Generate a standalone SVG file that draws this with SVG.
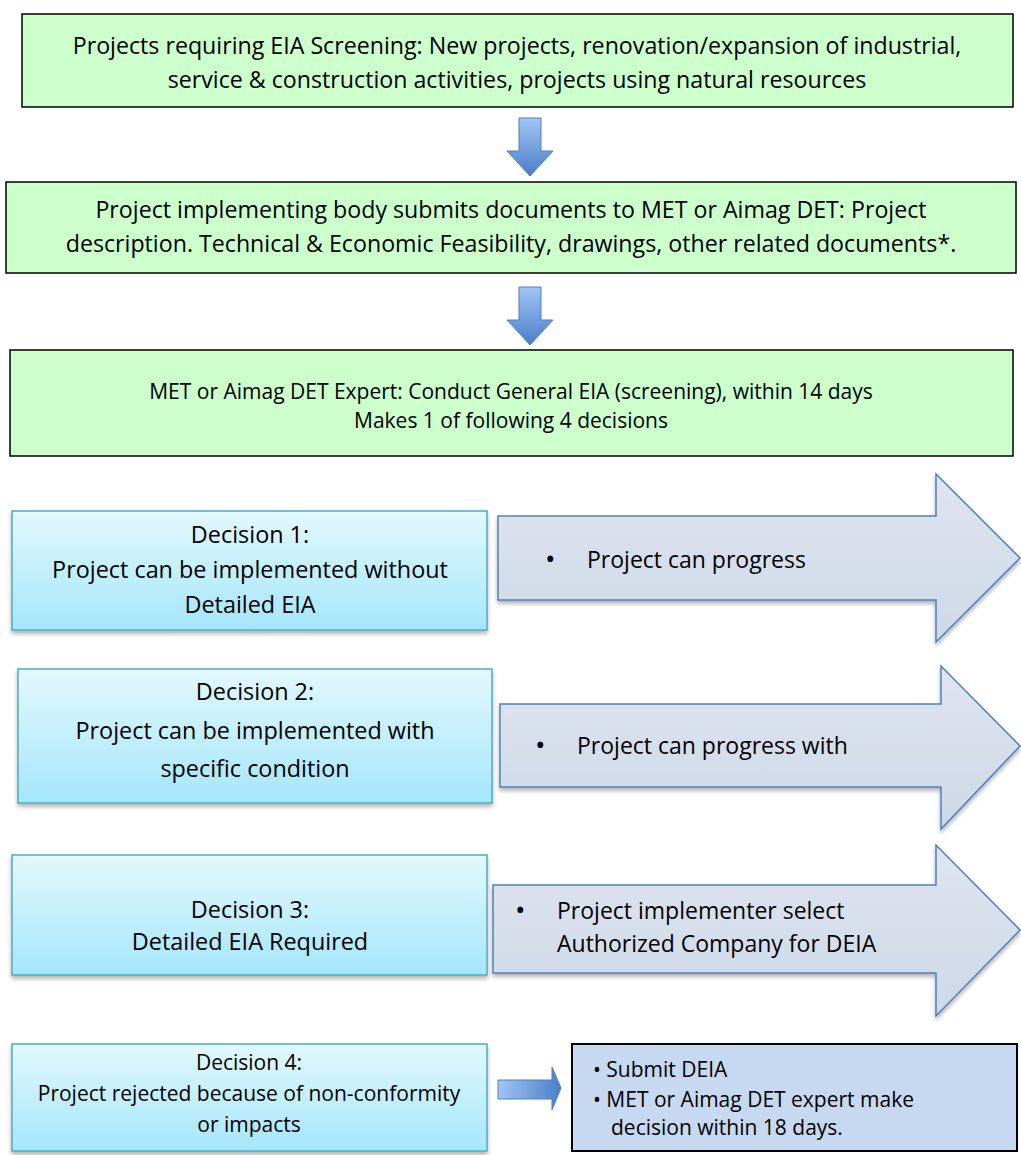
<svg xmlns="http://www.w3.org/2000/svg" width="1021" height="1155" viewBox="0 0 1021 1155">
<style>
text{font-family:"Open Sans","Liberation Sans",Arial,sans-serif;fill:#000}
.g{fill:#ccffcc;stroke:#000;stroke-width:1.5}
.d{fill:url(#dg);stroke:#4bacc6;stroke-width:1.5;filter:url(#sh)}
.ar{fill:url(#ag);stroke:#4f81bd;stroke-width:1.5;filter:url(#sh)}
.da{fill:url(#bg);stroke:#4f81bd;stroke-width:1}
.t{font-size:23.2px;text-anchor:middle}
.m{font-size:21px}
.dt{font-size:23.4px}
.s{font-size:21px}
.f{font-size:21px}
.a{font-size:23px}
.b{font-size:28px}
</style>
<defs>
<linearGradient id="dg" x1="0" y1="0" x2="0" y2="1"><stop offset="0" stop-color="#e2f8fd"/><stop offset="1" stop-color="#a5e6fb"/></linearGradient>
<linearGradient id="ag" x1="0" y1="0" x2="0" y2="1"><stop offset="0" stop-color="#dfe5f0"/><stop offset="1" stop-color="#cdd8e7"/></linearGradient>
<linearGradient id="bg" x1="0" y1="0" x2="0" y2="1"><stop offset="0" stop-color="#a3c4f5"/><stop offset="1" stop-color="#4a7ec8"/></linearGradient>
<linearGradient id="hg" x1="0" y1="0" x2="1" y2="0"><stop offset="0" stop-color="#a3c4f5"/><stop offset="1" stop-color="#4a7ec8"/></linearGradient>
<filter id="sh" x="-5%" y="-5%" width="110%" height="120%"><feDropShadow dx="0" dy="3" stdDeviation="2" flood-color="#000" flood-opacity="0.3"/></filter>
</defs>

<g id="connectors">
<path class="da" d="M519,118 H541 V151 H553 L530,176 L507,151 H519 Z"/>
<path class="da" d="M519,287 H541 V320 H553 L530,345 L507,320 H519 Z"/>
<path d="M498,1080 H552 V1067 L561,1088 L552,1110 V1099 H498 Z" fill="url(#hg)" stroke="#4f81bd" stroke-width="1"/>
</g>

<g id="box1">
<rect class="g" x="22" y="14" width="991" height="93"/>
<text class="t" x="517" y="54">Projects requiring EIA Screening: New projects, renovation/expansion of industrial,</text>
<text class="t" x="517" y="88">service &amp; construction activities, projects using natural resources</text>
</g>

<g id="box2">
<rect class="g" x="6" y="182" width="1010" height="91"/>
<text class="t" x="511" y="218">Project implementing body submits documents to MET or Aimag DET: Project</text>
<text class="t" x="511" y="252">description. Technical &amp; Economic Feasibility, drawings, other related documents*.</text>
</g>

<g id="box3">
<rect class="g" x="10" y="350" width="1003" height="106"/>
<text class="t m" x="511" y="399">MET or Aimag DET Expert: Conduct General EIA (screening), within 14 days</text>
<text class="t m" x="511" y="428">Makes 1 of following 4 decisions</text>
</g>

<g id="decision1">
<rect class="d" x="12" y="511" width="475" height="119"/>
<text class="t dt" x="250" y="543">Decision 1:</text>
<text class="t dt" x="250" y="578">Project can be implemented without</text>
<text class="t dt" x="250" y="613">Detailed EIA</text>
</g>
<g id="arrow1">
<path class="ar" d="M498,516 H936 V474 L1020,558 L936,642 V600 H498 Z"/>
<text class="b" x="545" y="569">•</text>
<text class="a" x="587" y="568">Project can progress</text>
</g>

<g id="decision2">
<rect class="d" x="18" y="669" width="474" height="134"/>
<text class="t dt" x="255" y="700">Decision 2:</text>
<text class="t dt" x="255" y="739">Project can be implemented with</text>
<text class="t dt" x="255" y="777">specific condition</text>
</g>
<g id="arrow2">
<path class="ar" d="M500,704 H941 V666 L1020,746 L941,829 V787 H500 Z"/>
<text class="b" x="535" y="755">•</text>
<text class="a" x="577" y="754">Project can progress with</text>
</g>

<g id="decision3">
<rect class="d" x="12" y="855" width="475" height="120"/>
<text class="t dt" x="250" y="918">Decision 3:</text>
<text class="t dt" x="250" y="950">Detailed EIA Required</text>
</g>
<g id="arrow3">
<path class="ar" d="M493,885 H936 V845 L1020,930 L936,1016 V973 H493 Z"/>
<text class="b" x="515" y="920">•</text>
<text class="a" x="557" y="919">Project implementer select</text>
<text class="a" x="557" y="952">Authorized Company for DEIA</text>
</g>

<g id="decision4">
<rect class="d" x="12" y="1044" width="475" height="107"/>
<text class="t s" x="249" y="1070">Decision 4:</text>
<text class="t s" x="249" y="1101">Project rejected because of non-conformity</text>
<text class="t s" x="249" y="1132">or impacts</text>
</g>

<g id="final">
<rect x="572" y="1044" width="445" height="107" fill="#c6d9f0" stroke="#000" stroke-width="2"/>
<text class="f" x="593" y="1077">• Submit DEIA</text>
<text class="f" x="593" y="1107">• MET or Aimag DET expert make</text>
<text class="f" x="611" y="1135">decision within 18 days.</text>
</g>
</svg>
